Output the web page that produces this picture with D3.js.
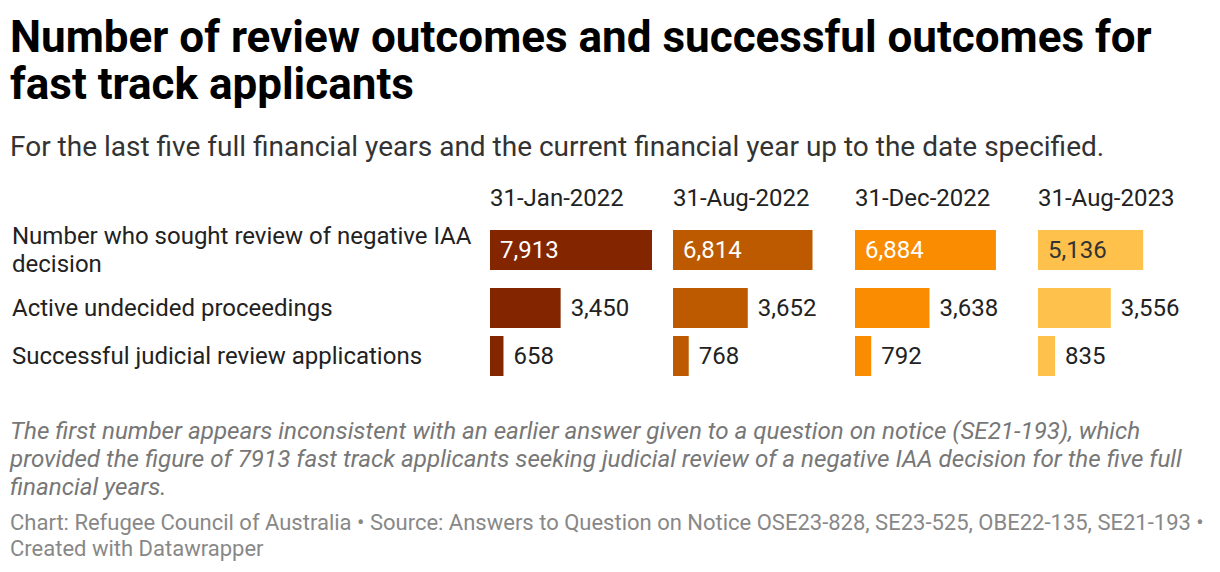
<!DOCTYPE html>
<html>
<head>
<meta charset="utf-8">
<script src="https://cdn.jsdelivr.net/npm/d3@7/dist/d3.min.js"></script>
<style>
  html, body { margin: 0; padding: 0; background: #fff; }
  svg { display: block; font-family: Roboto, "Noto Sans", sans-serif; }
</style>
</head>
<body>
<svg id="chart" width="1220" height="572"></svg>
<script>
const title = ["Number of review outcomes and successful outcomes for", "fast track applicants"];
const subtitle = "For the last five full financial years and the current financial year up to the date specified.";
const columns = ["31-Jan-2022", "31-Aug-2022", "31-Dec-2022", "31-Aug-2023"];
const rowLabels = [
  ["Number who sought review of negative IAA", "decision"],
  ["Active undecided proceedings"],
  ["Successful judicial review applications"]
];
const sought = [7913, 6814, 6884, 5136];
const active = [3450, 3652, 3638, 3556];
const successful = [658, 768, 792, 835];
const colors = ["#832600", "#bd5a00", "#f98c00", "#fdc14c"];
const noteLines = [
  "The first number appears inconsistent with an earlier answer given to a question on notice (SE21-193), which",
  "provided the figure of 7913 fast track applicants seeking judicial review of a negative IAA decision for the five full",
  "financial years."
];
const footerLines = [
  "Chart: Refugee Council of Australia \u2022 Source: Answers to Question on Notice OSE23-828, SE23-525, OBE22-135, SE21-193 \u2022",
  "Created with Datawrapper"
];

const series = [sought, active, successful];
const svg = d3.select("#chart");

// Title
svg.append("text").attr("font-size", 44).attr("font-weight", 700).attr("fill", "#000")
  .selectAll("tspan").data(title).join("tspan")
  .attr("x", 10).attr("y", (d, i) => 52 + i * 47).text(d => d);

svg.append("text").attr("x", 10).attr("y", 156)
  .attr("font-size", 28).attr("fill", "#333").text(subtitle);

// Layout
const colScale = d3.scaleBand().domain(columns).range([490, 1220]).paddingInner(0).paddingOuter(0);
const maxVal = d3.max(series.flat());
const x = d3.scaleLinear().domain([0, maxVal]).range([0, 162]);

const barH = 40, gap = 8;
let yPos = [], cur = 230;
rowLabels.forEach(lines => {
  yPos.push(cur);
  const h = lines.length > 1 ? 50 : barH;
  cur += h + gap;
});
const yScale = d3.scaleOrdinal().domain(d3.range(rowLabels.length)).range(yPos);

// column headers
svg.selectAll("text.col").data(columns).join("text").attr("class", "col")
  .attr("x", d => Math.round(colScale(d))).attr("y", 206)
  .attr("font-size", 24).attr("fill", "#222").text(d => d);

// row labels
rowLabels.forEach((lines, r) => {
  const t = svg.append("text").attr("font-size", 24).attr("fill", "#222");
  const y0 = yScale(r) + (lines.length > 1 ? 14 : 28);
  lines.forEach((l, i) => t.append("tspan").attr("x", 12).attr("y", y0 + i * 28).text(l));
});

// bars
const fmt = d3.format(",");
series.forEach((vals, r) => {
  vals.forEach((v, c) => {
    const x0 = Math.round(colScale(columns[c]));
    const y0 = yScale(r);
    const w = x(v);
    svg.append("rect").attr("x", x0).attr("y", y0).attr("width", w).attr("height", barH)
      .attr("fill", colors[c]);
    const inside = r === 0;
    svg.append("text")
      .attr("x", inside ? x0 + 10 : x0 + w + 10)
      .attr("y", y0 + barH / 2 + 8)
      .attr("font-size", 24)
      .attr("fill", inside ? (c === 3 ? "#333" : "#fff") : "#222")
      .text(fmt(v));
  });
});

// notes
svg.append("text").attr("font-size", 24.2).attr("font-style", "italic").attr("fill", "#777")
  .selectAll("tspan").data(noteLines).join("tspan")
  .attr("x", 10).attr("y", (d, i) => 439 + i * 28).text(d => d);

svg.append("text").attr("font-size", 22).attr("fill", "#888")
  .selectAll("tspan").data(footerLines).join("tspan")
  .attr("x", 10).attr("y", (d, i) => 530 + i * 26).text(d => d);
</script>
</body>
</html>
